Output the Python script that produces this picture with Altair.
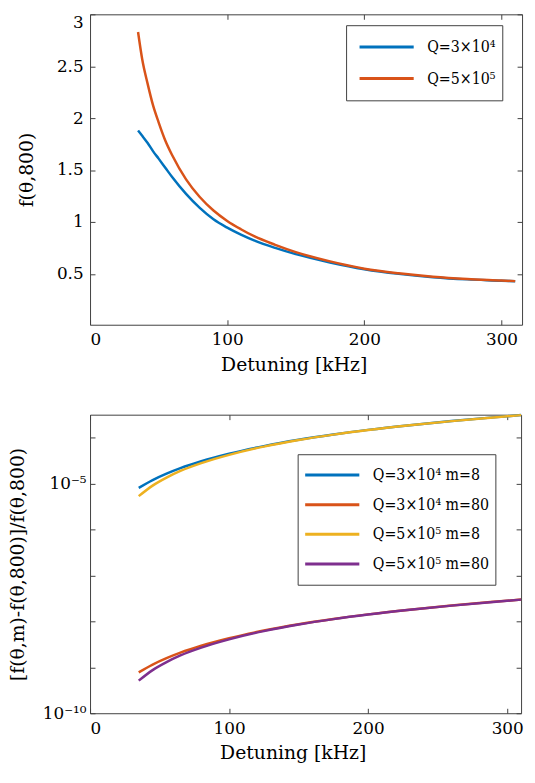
import altair as alt
import pandas as pd

FRAME = "#404040"
AXFONT = "DejaVu Serif"
LEGFONT = "DejaVu Serif Condensed, DejaVu Serif"

# ---------------- top panel data ----------------
x_top = [35, 38, 42, 46, 50, 55, 60, 70, 80, 90, 100, 110, 120, 135, 150, 175,
         200, 225, 250, 275, 300, 310]
f_q3e4 = [1.88, 1.83, 1.76, 1.68, 1.61, 1.52, 1.43, 1.27, 1.135, 1.025, 0.945, 0.878,
          0.82, 0.75, 0.69, 0.61, 0.545, 0.50, 0.468, 0.447, 0.434, 0.428]
f_q5e5 = [2.83, 2.57, 2.33, 2.12, 1.96, 1.78, 1.64, 1.41, 1.24, 1.11, 1.01, 0.93,
          0.86, 0.78, 0.71, 0.62, 0.55, 0.505, 0.472, 0.450, 0.436, 0.430]
top_labels = ["Q=3×10⁴", "Q=5×10⁵"]
top_colors = ["#0072BD", "#D95319"]

# ---------------- bottom panel data ----------------
x_bot = [35, 45, 55, 65, 80, 100, 125, 150, 175, 200, 230, 260, 290, 310]
r_q3e4_m8 = [8.13e-6, 1.202e-5, 1.660e-5, 2.188e-5, 3.090e-5, 4.508e-5, 6.622e-5,
             9.099e-5, 1.186e-4, 1.493e-4, 1.888e-4, 2.323e-4, 2.799e-4, 3.141e-4]
r_q3e4_m80 = [7.762e-10, 1.148e-9, 1.585e-9, 2.089e-9, 2.951e-9, 4.305e-9, 6.324e-9,
              8.690e-9, 1.132e-8, 1.426e-8, 1.803e-8, 2.218e-8, 2.673e-8, 2.999e-8]
r_q5e5_m8 = [5.370e-6, 9.120e-6, 1.365e-5, 1.905e-5, 2.818e-5, 4.256e-5, 6.442e-5,
             8.974e-5, 1.178e-4, 1.486e-4, 1.884e-4, 2.317e-4, 2.793e-4, 3.133e-4]
r_q5e5_m80 = [5.129e-10, 8.710e-10, 1.303e-9, 1.820e-9, 2.692e-9, 4.064e-9, 6.152e-9,
              8.570e-9, 1.125e-8, 1.419e-8, 1.799e-8, 2.213e-8, 2.667e-8, 2.992e-8]
bot_labels = ["Q=3×10⁴ m=8", "Q=3×10⁴ m=80", "Q=5×10⁵ m=8", "Q=5×10⁵ m=80"]
bot_colors = ["#0072BD", "#D95319", "#EDB120", "#7E2F8E"]

x_ticks = [0, 100, 200, 300]
y_top_ticks = [0.5, 1, 1.5, 2, 2.5, 3]
y_bot_ticks = [1e-10, 1e-9, 1e-8, 1e-7, 1e-6, 1e-5, 1e-4]
y_bot_labels = [1e-10, 1e-5]

top_rows = []
for lab, ys in zip(top_labels, [f_q3e4, f_q5e5]):
    for xv, yv in zip(x_top, ys):
        top_rows.append({"x": xv, "y": yv, "s": lab})
top_df = pd.DataFrame(top_rows)

bot_rows = []
for lab, ys in zip(bot_labels, [r_q3e4_m8, r_q3e4_m80, r_q5e5_m8, r_q5e5_m80]):
    for xv, yv in zip(x_bot, ys):
        bot_rows.append({"x": xv, "y": yv, "s": lab})
bot_df = pd.DataFrame(bot_rows)


def tick_axis(orient, values):
    return alt.Axis(orient=orient, offset=-5, labels=False, domain=False,
                    ticks=True, tickSize=5, tickColor=FRAME, values=values,
                    title=None, grid=False)


def panel(df, labels, colors, xscale, yscale, yaxis, ytitle, w, h, xtitle_x,
          leg_x, leg_y, clip_h, sym_off, ytick_values):
    base = alt.Chart(df)
    lines = base.mark_line(strokeWidth=2.5, interpolate="monotone").encode(
        x=alt.X("x:Q", scale=xscale,
                axis=alt.Axis(orient="bottom", values=x_ticks, ticks=False,
                              domain=False, grid=False, labelPadding=7,
                              title="Detuning [kHz]", titleX=xtitle_x,
                              titlePadding=8)),
        y=alt.Y("y:Q", scale=yscale, axis=yaxis, title=ytitle),
        color=alt.Color("s:N", sort=labels,
                        scale=alt.Scale(domain=labels, range=colors),
                        legend=alt.Legend(title=None, orient="none",
                                          legendX=leg_x, legendY=leg_y,
                                          clipHeight=clip_h, rowPadding=0,
                                          symbolOffset=sym_off)),
        detail="s:N",
    )
    t1 = base.mark_point(opacity=0).encode(
        x=alt.X("x:Q", scale=xscale, axis=tick_axis("top", x_ticks)),
        y=alt.Y("y:Q", scale=yscale, axis=tick_axis("right", ytick_values)),
    )
    t2 = base.mark_point(opacity=0).encode(
        x=alt.X("x:Q", scale=xscale, axis=tick_axis("bottom", x_ticks)),
        y=alt.Y("y:Q", scale=yscale, axis=tick_axis("left", ytick_values)),
    )
    return alt.layer(lines, t1, t2).resolve_axis(
        x="independent", y="independent").properties(width=w, height=h)


top = panel(
    top_df, top_labels, top_colors,
    alt.Scale(domain=[0, 315], nice=False, zero=False),
    alt.Scale(domain=[0.01, 3], nice=False, zero=False),
    alt.Axis(orient="left", values=y_top_ticks, format=".1~f", ticks=False,
             domain=False, grid=False, labelPadding=7, titlePadding=20,
             labelFlush=True),
    "f(θ,800)", 437, 314, 206, 259, 11, 32, 6, y_top_ticks,
)

bottom = panel(
    bot_df, bot_labels, bot_colors,
    alt.Scale(domain=[0, 310], nice=False, zero=False),
    alt.Scale(type="log", domain=[1e-10, 3.2e-4], nice=False),
    alt.Axis(orient="left", values=y_bot_labels, ticks=False, domain=False,
             grid=False, labelPadding=4, titlePadding=15,
             labelExpr="datum.value < 1e-7 ? '10⁻¹⁰' : '10⁻⁵'"),
    "[f(θ,m)-f(θ,800)]/f(θ,800)", 436, 302, 205, 210, 40, 30, 0, y_bot_ticks,
)

chart = alt.vconcat(top, bottom, spacing=91, bounds="flush").resolve_scale(
    color="independent"
).resolve_legend(
    color="independent"
).properties(
    padding={"left": 0, "top": 0, "right": 0, "bottom": 0}
).configure(
    font=AXFONT
).configure_view(
    stroke=FRAME, strokeWidth=1
).configure_axis(
    labelFont=AXFONT, titleFont=AXFONT, labelFontSize=17,
    titleFontSize=19, labelColor="#000000", titleColor="#000000",
    titleFontWeight="normal",
).configure_legend(
    labelFont=LEGFONT, labelFontSize=16, labelColor="#000000",
    symbolType="stroke", symbolSize=3000, symbolStrokeWidth=3,
    strokeColor=FRAME, fillColor="white", padding=6, cornerRadius=0,
    labelOffset=12,
)

chart.save("out.html", embed_options={"renderer": "svg", "actions": False})
